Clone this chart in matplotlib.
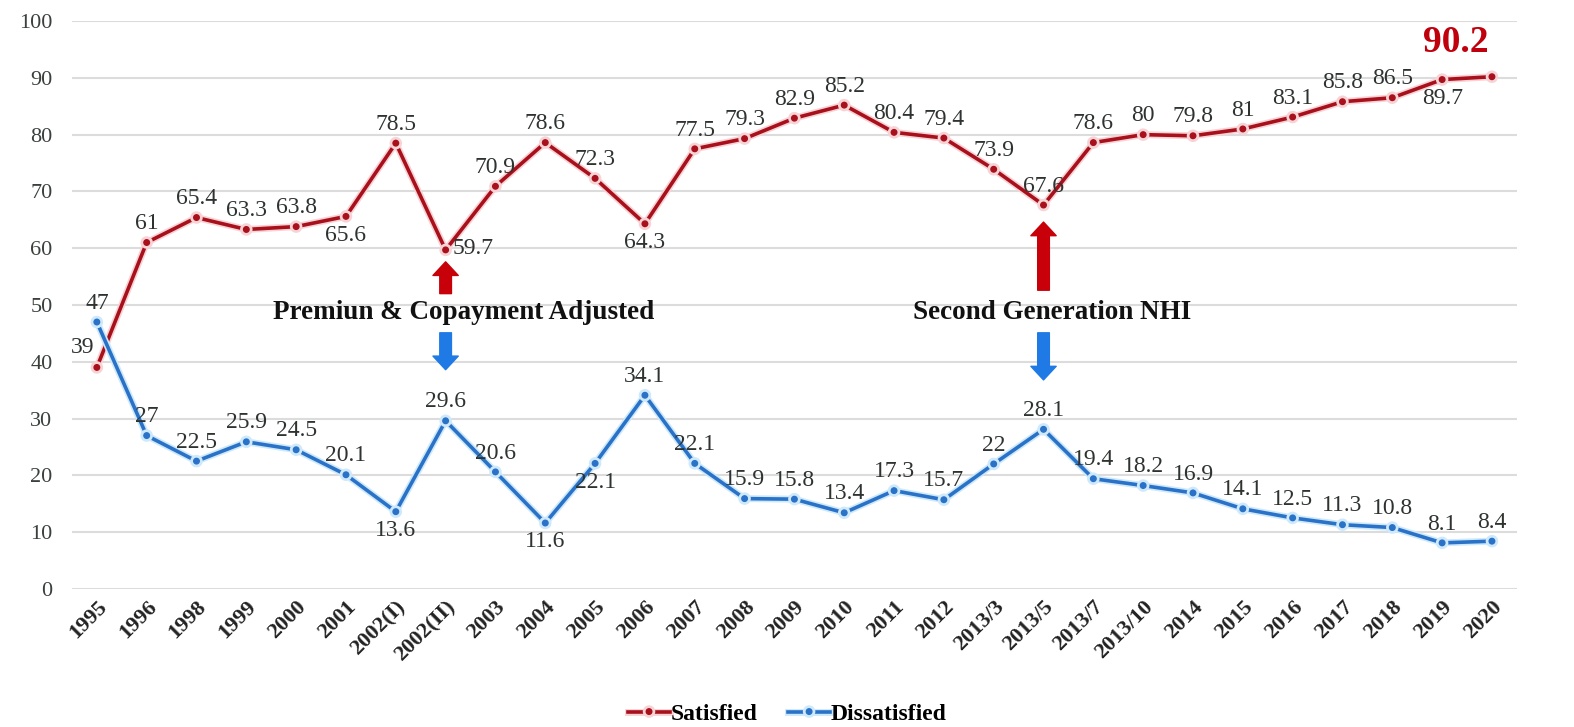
import matplotlib
matplotlib.use('Agg')
import matplotlib.pyplot as plt
import matplotlib.patheffects as pe

# Survey years (categories on the x axis)
years = ['1995', '1996', '1998', '1999', '2000', '2001', '2002(I)', '2002(II)',
         '2003', '2004', '2005', '2006', '2007', '2008', '2009', '2010', '2011',
         '2012', '2013/3', '2013/5', '2013/7', '2013/10', '2014', '2015', '2016',
         '2017', '2018', '2019', '2020']

satisfied = [39, 61, 65.4, 63.3, 63.8, 65.6, 78.5, 59.7, 70.9, 78.6, 72.3, 64.3,
             77.5, 79.3, 82.9, 85.2, 80.4, 79.4, 73.9, 67.6, 78.6, 80, 79.8, 81,
             83.1, 85.8, 86.5, 89.7, 90.2]

dissatisfied = [47, 27, 22.5, 25.9, 24.5, 20.1, 13.6, 29.6, 20.6, 11.6, 22.1, 34.1,
                22.1, 15.9, 15.8, 13.4, 17.3, 15.7, 22, 28.1, 19.4, 18.2, 16.9, 14.1,
                12.5, 11.3, 10.8, 8.1, 8.4]

# where the value label sits relative to its point
sat_pos = ['left', 'above', 'above', 'above', 'above', 'below', 'above', 'right',
           'above', 'above', 'above', 'below', 'above', 'above', 'above', 'above',
           'above', 'above', 'above', 'above', 'above', 'above', 'above', 'above',
           'above', 'above', 'above', 'below', 'none']
dis_pos = ['above', 'above', 'above', 'above', 'above', 'above', 'below', 'above',
           'above', 'below', 'below', 'above', 'above', 'above', 'above', 'above',
           'above', 'above', 'above', 'above', 'above', 'above', 'above', 'above',
           'above', 'above', 'above', 'above', 'above']

RED = '#a8101c'
BLUE = '#2a72c8'
TEXT = '#2e3330'
LABEL_SIZE = 17

plt.rcParams['font.family'] = ['Liberation Serif', 'DejaVu Serif']

fig = plt.figure(figsize=(15.74, 7.27), dpi=100)
ax = fig.add_axes([0.0457, 0.19, 0.918, 0.781])

x = list(range(len(years)))

ax.plot(x, satisfied, color=RED, lw=2.6, marker='o', ms=4, label='Satisfied',
        path_effects=[pe.Stroke(linewidth=5, foreground='#f8d3d6'), pe.Normal()])
ax.plot(x, dissatisfied, color=BLUE, lw=2.6, marker='o', ms=4, label='Dissatisfied',
        path_effects=[pe.Stroke(linewidth=5, foreground='#cde9fb'), pe.Normal()])


def put_labels(values, positions):
    for i, (v, p) in enumerate(zip(values, positions)):
        txt = '%g' % v
        kw = dict(textcoords='offset points', fontsize=LABEL_SIZE, color=TEXT)
        if p == 'above':
            ax.annotate(txt, (i, v), xytext=(0, 6), ha='center', va='bottom', **kw)
        elif p == 'below':
            ax.annotate(txt, (i, v), xytext=(0, -6), ha='center', va='top', **kw)
        elif p == 'left':
            ax.annotate(txt, (i, v), xytext=(-2, 7), ha='right', va='bottom', **kw)
        elif p == 'right':
            ax.annotate(txt, (i, v), xytext=(5, 1), ha='left', va='center', **kw)


put_labels(satisfied, sat_pos)
put_labels(dissatisfied, dis_pos)

# highlighted final value
ax.annotate('%g' % satisfied[-1], (x[-1], satisfied[-1]), xytext=(-26, 12),
            textcoords='offset points', ha='center', va='bottom', fontsize=27,
            fontweight='bold', color='#c0000c')

# event annotations
events = [(7, 'Premiun & Copayment Adjusted', 7.37, 52, 57.6, 45.1, 38.6),
          (19, 'Second Generation NHI', 19.18, 52.6, 64.6, 45.1, 36.8)]
arrow_style = 'simple,head_length=0.7,head_width=1.3,tail_width=0.6'
for idx, label, tx, r0, r1, b0, b1 in events:
    ax.text(tx, 48.6, label, ha='center', va='center', fontsize=19.5,
            fontweight='bold', color='#111111')
    ax.annotate('', xy=(idx, r1), xytext=(idx, r0),
                arrowprops=dict(arrowstyle=arrow_style, color='#c8000a',
                                mutation_scale=14, shrinkA=0, shrinkB=0))
    ax.annotate('', xy=(idx, b1), xytext=(idx, b0),
                arrowprops=dict(arrowstyle=arrow_style, color='#1f7ae6',
                                mutation_scale=14, shrinkA=0, shrinkB=0))

ax.set_xlim(-0.5, len(years) - 0.5)
ax.set_ylim(0, 100)
ax.set_yticks(range(0, 101, 10))
ax.set_xticks(x)
ax.set_xticklabels(years, rotation=45, ha='right', rotation_mode='anchor',
                   fontsize=16, fontweight='bold', color='#222222')
ax.tick_params(axis='y', labelsize=16, labelcolor='#3a403c', length=0, pad=14)
ax.tick_params(axis='x', length=0, pad=6)
ax.grid(axis='y', color='#dcdcdc', lw=1.5)
ax.set_axisbelow(True)
for s in ax.spines.values():
    s.set_visible(False)

fig.legend(loc='lower center', bbox_to_anchor=(0.5, -0.01), ncol=2, frameon=False,
           prop={'weight': 'bold', 'size': 17}, handlelength=1.8, handletextpad=0.0,
           columnspacing=1.3, borderaxespad=0.0)

fig.savefig('out.png', dpi=100)
